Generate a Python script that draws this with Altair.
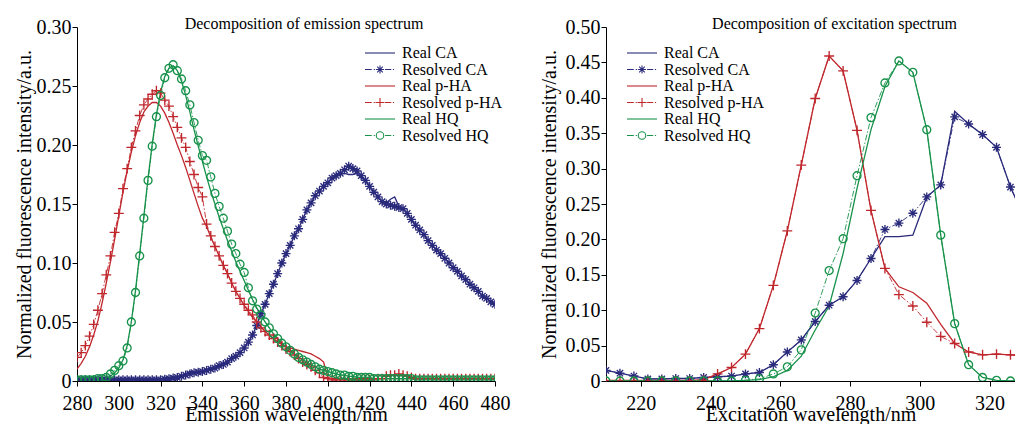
import altair as alt
import pandas as pd

# ---------------- data ----------------
SERIES = ["Real CA", "Resolved CA", "Real p-HA", "Resolved p-HA", "Real HQ", "Resolved HQ"]
COLORS = ["#2a2a7c", "#2a2a7c", "#c0272d", "#c0272d", "#17924a", "#17924a"]
COLOR_OF = dict(zip(SERIES, COLORS))

# Emission spectrum, 280-480 nm every 2 nm
em_wl = list(range(280, 481, 2))

em_ca_real = [
    0.001, 0.001, 0.001, 0.001, 0.001, 0.001, 0.001, 0.001, 0.001, 0.001,
    0.001, 0.001, 0.001, 0.001, 0.001, 0.001, 0.001, 0.001, 0.001, 0.001,
    0.001, 0.0015, 0.002, 0.0025, 0.003, 0.004, 0.006, 0.008, 0.008, 0.0078,
    0.008, 0.009, 0.010, 0.011, 0.013, 0.014, 0.016, 0.019, 0.021, 0.024,
    0.028, 0.033, 0.039, 0.047, 0.057, 0.065, 0.074, 0.082, 0.091, 0.100,
    0.108, 0.115, 0.123, 0.129, 0.137, 0.145, 0.151, 0.157, 0.161, 0.165,
    0.168, 0.172, 0.174, 0.175, 0.176, 0.175, 0.175, 0.176, 0.172, 0.170,
    0.165, 0.160, 0.156, 0.152, 0.151, 0.154, 0.156, 0.148, 0.146, 0.142,
    0.137, 0.132, 0.128, 0.124, 0.119, 0.115, 0.111, 0.108, 0.104, 0.100,
    0.096, 0.093, 0.089, 0.086, 0.082, 0.079, 0.076, 0.072, 0.070, 0.067,
    0.065]
em_ca_res = [
    0.001, 0.001, 0.001, 0.001, 0.001, 0.001, 0.001, 0.001, 0.001, 0.001,
    0.001, 0.001, 0.001, 0.001, 0.001, 0.001, 0.001, 0.001, 0.001, 0.001,
    0.001, 0.0015, 0.002, 0.0025, 0.003, 0.004, 0.005, 0.006, 0.007, 0.0075,
    0.008, 0.009, 0.010, 0.011, 0.013, 0.014, 0.016, 0.019, 0.021, 0.024,
    0.028, 0.033, 0.039, 0.047, 0.057, 0.065, 0.074, 0.082, 0.091, 0.100,
    0.108, 0.115, 0.123, 0.129, 0.137, 0.145, 0.151, 0.157, 0.161, 0.165,
    0.168, 0.172, 0.174, 0.176, 0.179, 0.182, 0.180, 0.178, 0.174, 0.170,
    0.165, 0.160, 0.156, 0.152, 0.150, 0.149, 0.148, 0.147, 0.146, 0.142,
    0.137, 0.132, 0.128, 0.124, 0.119, 0.115, 0.111, 0.108, 0.104, 0.100,
    0.096, 0.093, 0.089, 0.086, 0.082, 0.079, 0.076, 0.072, 0.070, 0.067,
    0.065]
em_pha_real = [
    0.010, 0.015, 0.021, 0.029, 0.039, 0.051, 0.066, 0.083, 0.101, 0.120,
    0.140, 0.160, 0.178, 0.194, 0.208, 0.219, 0.228, 0.233, 0.236, 0.236,
    0.233, 0.227, 0.219, 0.210, 0.200, 0.191, 0.181, 0.170, 0.159, 0.148,
    0.138, 0.131, 0.122, 0.114, 0.106, 0.098, 0.091, 0.083, 0.076, 0.070,
    0.064, 0.059, 0.054, 0.050, 0.046, 0.042, 0.039, 0.036, 0.033, 0.031,
    0.029, 0.028, 0.027, 0.026, 0.025, 0.024, 0.023, 0.021, 0.019, 0.016,
    0.003, 0.002, 0.002, 0.002, 0.002, 0.002, 0.002, 0.002, 0.002, 0.002,
    0.002, 0.002, 0.002, 0.002, 0.002, 0.002, 0.002, 0.002, 0.002, 0.002,
    0.002, 0.002, 0.002, 0.002, 0.002, 0.002, 0.002, 0.002, 0.002, 0.002,
    0.002, 0.002, 0.002, 0.002, 0.002, 0.002, 0.002, 0.002, 0.002, 0.002,
    0.002]
em_pha_res = [
    0.020, 0.024, 0.030, 0.038, 0.048, 0.060, 0.074, 0.090, 0.106, 0.126,
    0.142, 0.163, 0.180, 0.198, 0.212, 0.225, 0.234, 0.239, 0.243, 0.246,
    0.244, 0.238, 0.233, 0.224, 0.215, 0.206, 0.198, 0.186, 0.175, 0.164,
    0.156, 0.133, 0.123, 0.114, 0.106, 0.098, 0.091, 0.083, 0.076, 0.070,
    0.065, 0.060, 0.056, 0.050, 0.045, 0.042, 0.039, 0.036, 0.033, 0.030,
    0.027, 0.025, 0.022, 0.019, 0.016, 0.014, 0.012, 0.009, 0.007, 0.003,
    0.002, 0.001, 0.001, 0.001, 0.001, 0.001, 0.001, 0.001, 0.001, 0.001,
    0.001, 0.001, 0.002, 0.002, 0.004, 0.005, 0.005, 0.006, 0.005, 0.004,
    0.003, 0.002, 0.002, 0.002, 0.002, 0.002, 0.002, 0.002, 0.002, 0.002,
    0.002, 0.002, 0.002, 0.002, 0.002, 0.002, 0.002, 0.002, 0.002, 0.002,
    0.002]
em_hq_real = [
    0.001, 0.001, 0.001, 0.001, 0.001, 0.001, 0.002, 0.002, 0.004, 0.007,
    0.011, 0.018, 0.030, 0.050, 0.077, 0.108, 0.140, 0.172, 0.201, 0.226,
    0.245, 0.258, 0.265, 0.267, 0.263, 0.254, 0.242, 0.228, 0.213, 0.199,
    0.186, 0.173, 0.161, 0.150, 0.139, 0.129, 0.119, 0.110, 0.101, 0.093,
    0.085, 0.077, 0.069, 0.062, 0.056, 0.050, 0.045, 0.040, 0.036, 0.032,
    0.029, 0.026, 0.023, 0.020, 0.018, 0.016, 0.014, 0.012, 0.010, 0.009,
    0.008, 0.007, 0.006, 0.005, 0.005, 0.004, 0.004, 0.003, 0.003, 0.003,
    0.003, 0.002, 0.002, 0.002, 0.002, 0.002, 0.002, 0.002, 0.002, 0.002,
    0.002, 0.001, 0.001, 0.001, 0.001, 0.001, 0.001, 0.001, 0.001, 0.001,
    0.001, 0.001, 0.001, 0.001, 0.001, 0.001, 0.001, 0.001, 0.001, 0.001,
    0.001]
em_hq_res = [
    0.001, 0.001, 0.001, 0.001, 0.001, 0.002, 0.002, 0.003, 0.006, 0.009,
    0.013, 0.017, 0.028, 0.050, 0.075, 0.106, 0.138, 0.170, 0.199, 0.224,
    0.242, 0.257, 0.265, 0.268, 0.263, 0.256, 0.246, 0.234, 0.219, 0.204,
    0.191, 0.187, 0.173, 0.159, 0.148, 0.138, 0.127, 0.116, 0.108, 0.099,
    0.092, 0.079, 0.068, 0.061, 0.056, 0.050, 0.045, 0.040, 0.036, 0.032,
    0.029, 0.026, 0.023, 0.020, 0.018, 0.016, 0.014, 0.012, 0.010, 0.009,
    0.008, 0.007, 0.006, 0.005, 0.005, 0.004, 0.004, 0.003, 0.003, 0.003,
    0.003, 0.002, 0.002, 0.002, 0.002, 0.002, 0.002, 0.002, 0.002, 0.002,
    0.002, 0.001, 0.001, 0.001, 0.001, 0.001, 0.001, 0.001, 0.001, 0.001,
    0.001, 0.001, 0.001, 0.001, 0.001, 0.001, 0.001, 0.001, 0.001, 0.001,
    0.001]

# Excitation spectrum, 210-330 nm every 4 nm
ex_wl = list(range(210, 331, 4))

ex_ca_real = [
    0.015, 0.011, 0.007, 0.003, 0.003, 0.0035, 0.0035, 0.005, 0.006, 0.007,
    0.010, 0.012, 0.023, 0.041, 0.058, 0.084, 0.107, 0.119, 0.142, 0.173,
    0.204, 0.204, 0.206, 0.260, 0.277, 0.381, 0.363, 0.348, 0.330, 0.274,
    0.230]
ex_ca_res = [
    0.015, 0.011, 0.007, 0.003, 0.003, 0.0035, 0.0035, 0.005, 0.006, 0.007,
    0.010, 0.012, 0.023, 0.041, 0.058, 0.084, 0.107, 0.119, 0.142, 0.173,
    0.214, 0.223, 0.237, 0.260, 0.277, 0.373, 0.363, 0.348, 0.330, 0.274,
    0.230]
ex_pha_real = [
    0.001, 0.001, 0.001, 0.001, 0.001, 0.001, 0.001, 0.002, 0.010, 0.019,
    0.038, 0.074, 0.135, 0.212, 0.305, 0.399, 0.459, 0.438, 0.354, 0.241,
    0.159, 0.133, 0.125, 0.110, 0.080, 0.053, 0.041, 0.037, 0.038, 0.037,
    0.035]
ex_pha_res = [
    0.0, 0.0, 0.0, 0.0, 0.0, 0.0, 0.0, 0.001, 0.010, 0.019,
    0.038, 0.074, 0.135, 0.212, 0.305, 0.399, 0.459, 0.438, 0.354, 0.241,
    0.159, 0.122, 0.106, 0.083, 0.063, 0.053, 0.041, 0.037, 0.038, 0.037,
    0.035]
ex_hq_real = [
    0.0, 0.0, 0.0, 0.0, 0.0, 0.0, 0.0, 0.0, 0.0, 0.0,
    0.001, 0.002, 0.006, 0.015, 0.035, 0.072, 0.106, 0.180, 0.272, 0.355,
    0.416, 0.452, 0.436, 0.355, 0.206, 0.081, 0.023, 0.005, 0.001, 0.0,
    0.0]
ex_hq_res = [
    0.0, 0.0, 0.0, 0.0, 0.0, 0.0, 0.0, 0.0, 0.0, 0.0,
    0.001, 0.003, 0.010, 0.020, 0.044, 0.096, 0.156, 0.201, 0.290, 0.372,
    0.421, 0.452, 0.436, 0.355, 0.206, 0.081, 0.023, 0.005, 0.001, 0.0,
    0.0]

em_x_ticks = [280, 300, 320, 340, 360, 380, 400, 420, 440, 460, 480]
em_y_ticks = [0, 0.05, 0.10, 0.15, 0.20, 0.25, 0.30]
ex_x_ticks = [220, 240, 260, 280, 300, 320]
ex_y_ticks = [0, 0.05, 0.10, 0.15, 0.20, 0.25, 0.30, 0.35, 0.40, 0.45, 0.50]

# ---------------- helpers ----------------
def long(wl, named):
    rows = []
    for name, vals in named:
        for w, v in zip(wl, vals):
            rows.append({"wl": w, "value": v, "series": name})
    return pd.DataFrame(rows)

em_df = long(em_wl, [("Real CA", em_ca_real), ("Resolved CA", em_ca_res),
                     ("Real p-HA", em_pha_real), ("Resolved p-HA", em_pha_res),
                     ("Real HQ", em_hq_real), ("Resolved HQ", em_hq_res)])
ex_df = long(ex_wl, [("Real CA", ex_ca_real), ("Resolved CA", ex_ca_res),
                     ("Real p-HA", ex_pha_real), ("Resolved p-HA", ex_pha_res),
                     ("Real HQ", ex_hq_real), ("Resolved HQ", ex_hq_res)])
leg_df = pd.DataFrame({"series": SERIES, "wl": [0] * 6, "value": [0] * 6})

# marker shapes (plot)
ASTER = "M-1,0L1,0M0,-1L0,1M-0.7,-0.7L0.7,0.7M-0.7,0.7L0.7,-0.7"
PLUS = "M-1.1,0L1.1,0M0,-1.1L0,1.1"
CIRC = "M0.88,0A0.88,0.88,0,1,1,-0.88,0A0.88,0.88,0,1,1,0.88,0"
MARKERS = {"Resolved CA": ASTER, "Resolved p-HA": PLUS, "Resolved HQ": CIRC}

# legend symbols: line (+ dash-dot with marker)
LINE = "M-1,0L1,0"
DD = "M-1,0L-0.55,0M-0.42,0L-0.34,0M0.34,0L0.75,0M0.86,0L0.94,0"
LEG_ASTER = DD + "M-0.27,0L0.27,0M0,-0.27L0,0.27M-0.19,-0.19L0.19,0.19M-0.19,0.19L0.19,-0.19"
LEG_PLUS = DD + "M-0.3,0L0.3,0M0,-0.3L0,0.3"
LEG_CIRC = DD + "M0.25,0A0.25,0.25,0,1,1,-0.25,0A0.25,0.25,0,1,1,0.25,0"
LEG_SHAPES = [LINE, LEG_ASTER, LINE, LEG_PLUS, LINE, LEG_CIRC]

FONT = "Liberation Serif"
YTITLE = "Normalized fluorescence intensity/a.u."


def panel(df, xdom, xticks, ydom, yticks, xtitle, title, tdx, lx, ly, w, h, ytp):
    x = alt.X("wl:Q", scale=alt.Scale(domain=xdom, nice=False, zero=False),
              axis=alt.Axis(values=xticks, title=xtitle, format="d"))
    y = alt.Y("value:Q", scale=alt.Scale(domain=ydom, nice=False, zero=False),
              axis=alt.Axis(values=yticks, title=YTITLE, titlePadding=ytp,
                            labelExpr="datum.value == 0 ? '0' : format(datum.value, '.2f')"))
    layers = []
    for name in SERIES:
        base = alt.Chart(df).transform_filter(alt.datum.series == name)
        if name.startswith("Real"):
            layers.append(base.mark_line(strokeWidth=1.3, clip=True, color=COLOR_OF[name]).encode(x=x, y=y))
        else:
            layers.append(base.mark_line(strokeWidth=0.9, strokeDash=[6, 2, 1.5, 2], clip=True,
                                         color=COLOR_OF[name]).encode(x=x, y=y))
    for name, path in MARKERS.items():
        layers.append(alt.Chart(df).transform_filter(alt.datum.series == name).mark_point(
            shape=path, filled=False, size=81, strokeWidth=1.35, opacity=1, clip=True,
            color=COLOR_OF[name]).encode(x=x, y=y))

    lg = alt.Legend(title=None, orient="none", legendX=lx, legendY=ly,
                    symbolSize=900, symbolStrokeWidth=1.1, clipHeight=16, rowPadding=0.5,
                    labelFont=FONT, labelFontSize=16, labelColor="black", labelOffset=6,
                    labelLimit=300, padding=0, symbolOpacity=1)
    leg = alt.Chart(leg_df).transform_filter("false").mark_point(
        filled=False, opacity=1, strokeWidth=1.1).encode(
        x=x, y=y,
        shape=alt.Shape("series:N", scale=alt.Scale(domain=SERIES, range=LEG_SHAPES), legend=lg),
        color=alt.Color("series:N", scale=alt.Scale(domain=SERIES, range=COLORS), legend=lg))
    layers.append(leg)

    return alt.layer(*layers).properties(
        width=w, height=h,
        title=alt.TitleParams(title, font=FONT, fontSize=16, fontWeight="normal", color="black",
                              anchor="middle", dx=tdx, offset=-15, frame="group"))


left = panel(em_df, [280, 480], em_x_ticks, [0, 0.30], em_y_ticks,
             "Emission wavelength/nm", "Decomposition of emission spectrum", 18, 287, 18, 418, 354, 2)
right = panel(ex_df, [210, 327.3], ex_x_ticks, [0, 0.50], ex_y_ticks,
              "Excitation wavelength/nm", "Decomposition of excitation spectrum", 24, 20, 18, 409, 354, 6)

chart = alt.hconcat(left, right, spacing=111, bounds="flush").resolve_scale(
    color="independent", shape="independent", x="independent", y="independent"
).resolve_legend(color="independent", shape="independent").properties(
    padding={"left": 6, "top": 8, "right": 0, "bottom": 0},
    background="white",
).configure_view(stroke=None).configure_axis(
    labelFont=FONT, labelFontSize=20, labelColor="black",
    titleFont=FONT, titleFontSize=20, titleFontWeight="normal", titleColor="black",
    domainColor="black", domainWidth=1, tickColor="black", tickWidth=1, tickSize=5,
    grid=False, labelFlush=False,
).configure_axisX(labelPadding=7, titlePadding=-9).configure_axisY(labelPadding=1)

chart.save("out.html", embed_options={"renderer": "svg", "actions": False})
